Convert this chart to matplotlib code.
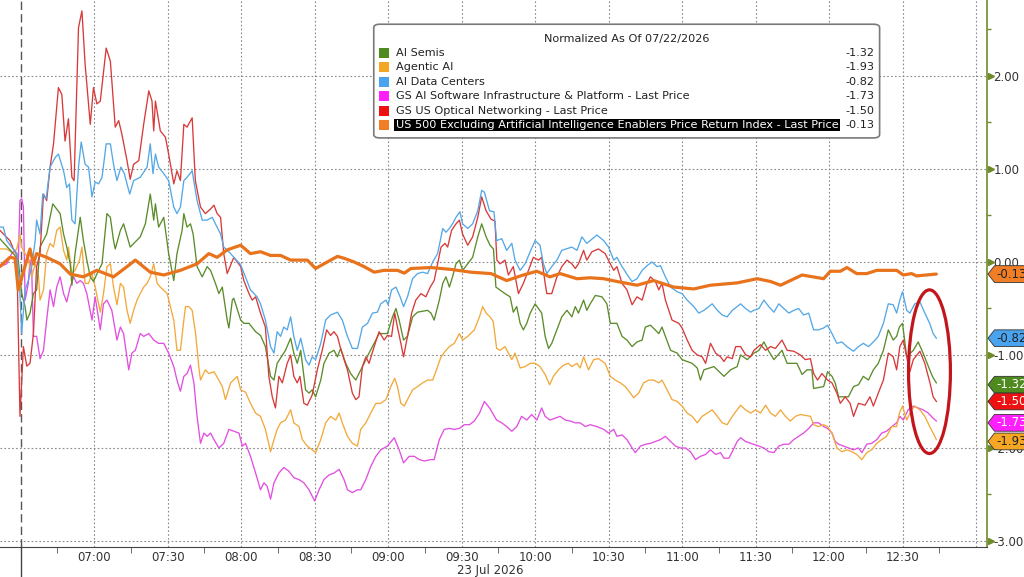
import matplotlib
matplotlib.use("Agg")
import matplotlib.pyplot as plt
import matplotlib.transforms as mtransforms
from matplotlib.patches import Ellipse, FancyBboxPatch, Polygon, Rectangle
from matplotlib.lines import Line2D

# time axis: minutes after 06:30 on 23 Jul 2026
labels = ["AI Semis", "Agentic AI", "AI Data Centers",
          "GS AI Software Infrastructure & Platform - Last Price",
          "GS US Optical Networking - Last Price",
          "US 500 Excluding Artificial Intelligence Enablers Price Return Index - Last Price"]
last_values = [-1.32, -1.93, -0.82, -1.73, -1.50, -0.13]
colors = ["#5b8c2a", "#f2a93b", "#55a8e6", "#e24fe0", "#d83a3a", "#e8731c"]
legend_colors = ["#4f8a1e", "#f5a623", "#4aa3ee", "#ff1fff", "#ee1111", "#f07e26"]

orange_t = [-8.5, -4.4, -2.3, -1.0, 3.8, 5.2, 6.5, 10.6, 16.1, 20.2,
            25.6, 31.1, 37.9, 43.4, 46.8, 52.9, 58.4, 65.2, 72.0, 76.8,
            80.2, 84.3, 89.8, 93.8, 97.9, 102.0, 106.1, 110.2, 117.0, 120.4,
            123.8, 129.3, 132.0, 136.1, 140.2, 144.3, 148.4, 153.8, 156.6, 159.3,
            167.5, 175.7, 183.8, 192.0, 198.4, 205.2, 210.7, 216.1, 220.2, 227.1,
            232.5, 238.0, 243.4, 251.6, 258.4, 266.6, 274.8, 281.6, 292.5, 300.7,
            306.1, 310.2, 314.2, 319.0, 327.8, 330.5, 334.6, 337.3, 341.3, 345.4,
            349.5, 357.6, 360.3, 363.7, 365.7, 373.8]
orange_v = [-0.05, 0.05, 0.04, -0.30, 0.14, -0.02, 0.09, 0.05, -0.02, -0.13,
            -0.16, -0.09, -0.16, -0.05, 0.02, -0.11, -0.14, -0.09, -0.02, 0.09,
            0.05, 0.13, 0.18, 0.09, 0.11, 0.07, 0.07, 0.02, 0.02, -0.07,
            -0.02, 0.06, 0.04, 0.00, -0.05, -0.11, -0.09, -0.09, -0.12, -0.07,
            -0.06, -0.08, -0.11, -0.125, -0.20, -0.14, -0.10, -0.16, -0.125, -0.18,
            -0.17, -0.18, -0.21, -0.25, -0.20, -0.27, -0.29, -0.25, -0.225, -0.18,
            -0.21, -0.25, -0.20, -0.14, -0.18, -0.10, -0.10, -0.06, -0.125, -0.125,
            -0.09, -0.09, -0.14, -0.125, -0.15, -0.13]

red_t = [-8.5, -4.4, -3.0, -1.6, -0.3, 1.1, 2.5, 3.8, 5.2, 6.5,
         7.9, 9.3, 10.6, 12.0, 13.4, 15.4, 16.8, 18.1, 19.5, 20.9,
         21.8, 23.6, 25.0, 26.3, 28.4, 29.7, 31.1, 32.5, 34.9, 36.6,
         38.6, 40.0, 41.3, 43.4, 44.7, 46.1, 48.2, 50.2, 52.3, 53.6,
         54.3, 55.0, 57.0, 59.1, 60.4, 62.5, 63.8, 65.2, 66.6, 67.9,
         70.0, 71.3, 73.4, 75.4, 77.5, 78.9, 80.2, 81.6, 82.9, 84.3,
         87.0, 89.8, 91.1, 93.2, 94.5, 95.9, 97.9, 99.9, 101.3, 102.7,
         104.0, 105.4, 106.8, 108.8, 110.2, 111.5, 112.9, 114.0, 115.6, 117.0,
         119.0, 121.1, 123.1, 124.9, 126.5, 127.9, 129.3, 130.4, 132.0, 133.4,
         135.4, 136.8, 138.1, 139.5, 140.9, 142.2, 144.3, 146.3, 148.4, 149.7,
         151.4, 152.7, 153.8, 155.2, 156.3, 157.9, 159.6, 161.3, 163.4, 165.4,
         167.2, 168.8, 170.2, 171.6, 173.2, 174.3, 175.9, 177.7, 179.1, 180.4,
         182.5, 184.5, 186.6, 188.2, 190.0, 192.0, 193.6, 194.4, 195.7, 197.7,
         199.1, 201.1, 203.2, 205.2, 207.3, 209.3, 211.4, 212.7, 214.1, 214.8,
         216.8, 218.9, 220.9, 223.0, 225.0, 226.4, 227.7, 229.8, 231.1, 233.2,
         235.9, 238.6, 240.7, 242.1, 243.4, 245.5, 247.5, 249.6, 251.6, 253.7,
         255.7, 257.1, 259.1, 260.5, 261.8, 263.2, 265.9, 268.7, 270.0, 272.1,
         274.1, 276.2, 278.2, 279.6, 281.6, 283.7, 285.7, 287.1, 288.4, 290.5,
         291.9, 293.9, 296.0, 298.0, 299.3, 302.0, 304.1, 306.1, 308.1, 310.8,
         312.9, 315.6, 318.3, 320.3, 322.4, 323.7, 325.3, 327.1, 329.4, 331.2,
         333.2, 334.6, 336.6, 338.6, 340.0, 342.0, 344.7, 346.7, 348.1, 350.1,
         352.2, 354.2, 356.2, 357.6, 358.9, 360.3, 361.7, 363.0, 364.4, 367.1,
         369.1, 371.2, 372.5, 373.8]
red_v = [0.34, 0.23, 0.14, 0.09, -1.66, -0.91, -1.12, -1.09, -0.77, -0.05,
         0.09, 0.73, 0.66, 1.02, 1.27, 1.875, 1.80, 1.30, 1.54, 0.91,
         0.875, 2.52, 2.70, 2.125, 1.48, 1.875, 1.70, 1.73, 2.30, 2.16,
         1.45, 1.52, 1.375, 1.09, 0.89, 1.05, 1.09, 1.48, 1.84, 1.73,
         1.41, 1.73, 1.41, 1.34, 1.16, 0.84, 0.98, 0.875, 1.48, 1.45,
         1.55, 0.875, 0.59, 0.52, 0.57, 0.61, 0.52, 0.48, 0.09, -0.125,
         0.05, -0.05, -0.20, -0.34, -0.41, -0.375, -0.55, -0.70, -1.23, -1.45,
         -1.57, -1.23, -1.30, -1.09, -1.00, -1.23, -1.30, -1.23, -1.52, -1.54,
         -1.43, -1.16, -0.95, -0.73, -0.79, -0.75, -0.80, -0.91, -1.05, -1.16,
         -1.41, -1.48, -1.45, -1.125, -1.02, -1.09, -0.91, -0.75, -0.84, -0.79,
         -0.80, -0.55, -0.70, -0.875, -1.02, -0.80, -0.55, -0.41, -0.34, -0.375,
         -0.27, -0.20, -0.02, 0.16, 0.20, 0.16, 0.34, 0.41, 0.45, 0.30,
         0.18, 0.27, 0.48, 0.70, 0.55, 0.46, 0.44, 0.02, -0.02, 0.02,
         -0.14, -0.05, -0.34, -0.23, -0.09, 0.05, 0.02, 0.05, -0.23, -0.34,
         -0.34, -0.16, -0.05, 0.02, -0.02, -0.07, -0.02, 0.125, 0.02, 0.11,
         0.14, 0.09, -0.02, -0.09, -0.05, -0.23, -0.30, -0.46, -0.375, -0.41,
         -0.23, -0.16, -0.21, -0.30, -0.23, -0.41, -0.625, -0.66, -0.71, -0.84,
         -0.95, -1.00, -1.02, -1.09, -0.875, -0.98, -1.02, -1.07, -1.02, -1.04,
         -0.91, -0.91, -1.0, -1.02, -0.95, -0.89, -0.95, -0.91, -0.93, -0.84,
         -0.95, -0.96, -1.00, -1.05, -1.04, -1.20, -1.27, -1.20, -1.27, -1.30,
         -1.41, -1.52, -1.45, -1.52, -1.66, -1.52, -1.54, -1.45, -1.55, -1.41,
         -1.27, -0.98, -1.02, -1.16, -0.91, -0.84, -1.02, -1.18, -1.05, -0.96,
         -1.09, -1.30, -1.45, -1.50]

green_t = [-8.5, -3.0, -1.0, 0.4, 1.8, 2.5, 3.8, 5.2, 6.5, 7.9,
           10.6, 13.1, 16.1, 17.5, 18.8, 20.2, 20.9, 22.2, 24.3, 25.6,
           27.0, 28.4, 29.7, 31.8, 33.2, 35.2, 36.6, 37.9, 38.6, 40.7,
           42.0, 44.7, 48.8, 50.9, 52.9, 54.3, 55.0, 56.3, 58.4, 60.4,
           62.5, 63.8, 65.9, 66.6, 67.9, 69.3, 70.4, 72.0, 74.1, 76.1,
           77.5, 79.5, 80.9, 82.3, 84.3, 85.0, 86.4, 87.0, 89.8, 91.1,
           93.2, 95.9, 97.9, 99.9, 102.0, 103.4, 104.7, 108.1, 110.2, 111.5,
           112.9, 114.3, 116.3, 117.7, 119.0, 120.4, 122.5, 123.8, 125.9, 127.9,
           129.3, 130.6, 132.7, 134.7, 136.8, 138.1, 140.2, 142.2, 144.3, 146.3,
           149.7, 151.8, 153.2, 154.5, 156.3, 157.9, 160.0, 162.0, 166.1, 167.5,
           168.8, 170.9, 172.3, 173.6, 175.0, 176.3, 177.7, 179.1, 180.4, 182.5,
           184.5, 186.6, 188.2, 190.0, 191.6, 193.0, 194.0, 197.7, 199.8, 201.1,
           202.5, 203.9, 205.2, 206.6, 208.0, 210.0, 212.7, 214.1, 215.5, 216.8,
           218.9, 220.9, 223.0, 225.0, 226.4, 227.7, 229.8, 231.1, 232.5, 234.6,
           237.3, 239.3, 240.7, 243.4, 245.5, 247.5, 249.6, 251.6, 253.7, 255.0,
           257.1, 260.5, 261.8, 263.2, 265.3, 268.0, 270.0, 274.1, 276.2, 277.5,
           278.9, 283.0, 287.1, 289.8, 292.5, 293.9, 296.6, 299.3, 301.4, 303.4,
           305.4, 307.5, 310.8, 312.9, 316.9, 319.0, 321.0, 323.0, 323.7, 327.8,
           329.4, 331.2, 332.5, 333.9, 337.9, 340.0, 342.0, 344.0, 346.1, 348.1,
           350.1, 352.2, 354.2, 356.2, 357.6, 358.7, 360.0, 361.7, 364.4, 366.4,
           368.4, 370.5, 372.2, 373.8]
green_v = [0.25, 0.09, 0.02, -0.34, -0.48, -0.625, -0.55, -0.34, -0.30, 0.16,
           0.30, 0.625, 0.52, 0.30, 0.16, -0.02, -0.25, 0.09, 0.48, 0.23,
           0.02, -0.16, -0.21, -0.09, -0.02, 0.52, 0.48, 0.23, 0.14, 0.34,
           0.41, 0.16, 0.27, 0.41, 0.73, 0.45, 0.625, 0.375, 0.48, 0.09,
           -0.20, 0.09, 0.34, 0.52, 0.375, 0.41, 0.30, -0.05, -0.16, -0.05,
           -0.09, -0.23, -0.34, -0.27, -0.625, -0.71, -0.41, -0.39, -0.625, -0.66,
           -0.66, -0.75, -0.79, -0.91, -1.23, -1.27, -1.09, -0.95, -0.82, -0.98,
           -1.09, -0.95, -1.375, -1.41, -1.375, -1.45, -1.27, -1.09, -0.98, -0.95,
           -1.02, -0.93, -1.09, -1.20, -1.27, -1.20, -1.09, -0.98, -0.875, -0.77,
           -0.77, -0.59, -0.50, -0.625, -0.84, -0.80, -0.59, -0.54, -0.52, -0.55,
           -0.625, -0.41, -0.23, -0.16, -0.27, -0.16, -0.02, 0.02, -0.09, -0.02,
           0.05, 0.27, 0.41, 0.27, 0.18, 0.14, -0.27, -0.34, -0.375, -0.54,
           -0.48, -0.66, -0.73, -0.66, -0.55, -0.45, -0.55, -0.80, -0.93, -0.875,
           -0.73, -0.59, -0.52, -0.59, -0.48, -0.55, -0.41, -0.52, -0.45, -0.36,
           -0.375, -0.45, -0.66, -0.66, -0.80, -0.84, -0.91, -0.86, -0.84, -0.70,
           -0.68, -0.77, -0.70, -0.80, -0.95, -0.98, -1.05, -1.09, -1.14, -1.27,
           -1.16, -1.125, -1.23, -1.16, -1.125, -1.00, -1.05, -0.98, -0.95, -0.86,
           -0.96, -1.05, -0.95, -1.09, -1.09, -1.21, -1.16, -1.16, -1.36, -1.34,
           -1.18, -1.23, -1.30, -1.45, -1.45, -1.34, -1.32, -1.23, -1.27, -1.16,
           -1.09, -0.95, -0.73, -0.84, -0.80, -0.70, -0.66, -1.02, -0.95, -0.86,
           -0.98, -1.12, -1.23, -1.30]

blue_t = [-8.5, -7.1, -5.7, -3.7, -1.6, -0.5, 0.4, 1.8, 3.1, 4.5,
          5.9, 6.5, 7.9, 9.0, 10.4, 12.0, 14.1, 15.4, 17.5, 18.8,
          19.9, 20.9, 22.2, 23.6, 24.7, 26.3, 27.7, 29.1, 30.4, 31.8,
          33.2, 34.9, 36.6, 37.9, 39.3, 40.9, 42.3, 44.5, 46.1, 48.8,
          51.6, 52.9, 54.0, 55.0, 56.3, 58.4, 60.4, 62.5, 63.8, 65.2,
          66.6, 67.9, 70.0, 72.0, 74.1, 76.1, 78.2, 79.5, 81.6, 82.9,
          85.7, 87.0, 89.8, 93.8, 96.5, 97.9, 99.9, 102.0, 103.4, 104.7,
          106.1, 107.4, 108.8, 110.2, 111.5, 112.9, 114.3, 116.3, 117.7, 119.0,
          120.4, 122.5, 124.5, 126.5, 129.3, 131.3, 133.4, 135.4, 137.5, 139.5,
          141.6, 143.6, 145.6, 147.0, 149.1, 150.0, 151.4, 153.2, 154.9, 156.3,
          157.9, 160.0, 162.0, 164.1, 166.1, 168.2, 170.2, 172.3, 173.6, 175.0,
          176.3, 177.7, 179.3, 180.4, 182.5, 184.5, 186.6, 188.2, 189.3, 191.4,
          193.2, 194.3, 196.4, 198.4, 200.5, 201.8, 203.9, 205.9, 208.0, 210.0,
          212.0, 213.4, 214.8, 216.8, 218.9, 220.9, 225.0, 227.1, 229.1, 231.1,
          232.5, 235.2, 238.0, 240.0, 242.1, 243.4, 245.5, 248.2, 249.6, 251.6,
          253.7, 255.7, 257.7, 259.8, 261.2, 263.2, 265.3, 268.0, 270.0, 272.1,
          274.8, 276.8, 278.9, 280.9, 282.3, 284.4, 286.4, 288.4, 290.5, 292.5,
          293.9, 295.9, 298.0, 299.3, 301.4, 303.4, 305.4, 307.5, 309.5, 311.5,
          313.6, 315.6, 317.6, 319.6, 321.7, 323.7, 325.7, 327.8, 329.4, 331.2,
          333.2, 335.2, 337.3, 340.0, 342.0, 344.0, 346.1, 348.1, 350.1, 352.2,
          354.2, 356.2, 357.6, 358.9, 360.0, 361.7, 363.0, 365.0, 367.1, 369.1,
          371.1, 372.5, 373.8]
blue_v = [0.375, 0.375, 0.23, 0.16, 0.09, -0.23, -0.77, -0.30, -0.20, -0.05,
          0.23, 0.45, 0.30, 0.73, 0.68, 1.02, 1.125, 1.16, 0.98, 0.80,
          0.84, 0.45, 0.41, 1.02, 1.29, 1.05, 1.02, 0.70, 0.86, 0.84,
          0.91, 1.27, 1.27, 1.05, 0.875, 1.02, 0.95, 0.73, 0.875, 0.91,
          1.02, 1.27, 0.95, 1.16, 1.02, 0.95, 0.875, 0.59, 0.52, 0.59,
          0.875, 0.91, 0.98, 0.66, 0.45, 0.45, 0.48, 0.41, 0.30, 0.16,
          0.09, 0.05, -0.03, -0.30, -0.375, -0.45, -0.625, -0.91, -0.98, -0.75,
          -0.80, -0.70, -0.73, -0.59, -0.80, -0.95, -0.82, -1.05, -1.11, -1.02,
          -1.05, -0.875, -0.625, -0.57, -0.54, -0.625, -0.80, -0.93, -0.93, -0.70,
          -0.66, -0.55, -0.54, -0.45, -0.41, -0.46, -0.30, -0.27, -0.375, -0.48,
          -0.375, -0.18, -0.125, -0.11, -0.125, 0.0, 0.09, 0.36, 0.32, 0.36,
          0.41, 0.48, 0.54, 0.41, 0.36, 0.41, 0.55, 0.77, 0.75, 0.55,
          0.54, 0.23, 0.25, 0.125, 0.20, 0.02, -0.09, -0.02, 0.11, 0.23,
          0.18, -0.02, -0.125, -0.05, 0.02, 0.125, 0.16, 0.125, 0.27, 0.20,
          0.23, 0.29, 0.23, 0.16, 0.02, 0.05, -0.05, -0.16, -0.21, -0.18,
          -0.09, -0.04, 0.0, -0.05, -0.04, -0.16, -0.27, -0.32, -0.34, -0.41,
          -0.48, -0.55, -0.52, -0.48, -0.45, -0.52, -0.57, -0.59, -0.52, -0.48,
          -0.45, -0.50, -0.54, -0.52, -0.50, -0.41, -0.48, -0.54, -0.45, -0.50,
          -0.55, -0.52, -0.50, -0.57, -0.55, -0.73, -0.73, -0.71, -0.68, -0.77,
          -0.875, -0.86, -0.91, -0.96, -0.91, -0.875, -0.91, -0.86, -0.80, -0.66,
          -0.45, -0.46, -0.55, -0.41, -0.32, -0.52, -0.55, -0.45, -0.43, -0.55,
          -0.66, -0.77, -0.82]

yellow_t = [-8.5, -5.7, -3.0, -1.6, -0.3, 0.4, 1.8, 3.1, 4.5, 5.9,
            7.2, 7.9, 9.3, 10.6, 12.0, 13.4, 14.7, 16.1, 17.5, 18.8,
            19.5, 20.9, 22.2, 24.0, 25.0, 26.3, 27.7, 29.1, 30.4, 32.5,
            33.8, 35.2, 36.6, 37.9, 39.3, 40.7, 42.0, 43.4, 44.7, 46.1,
            47.5, 48.8, 50.2, 51.6, 52.9, 54.3, 55.7, 57.0, 59.8, 61.1,
            62.5, 63.8, 65.2, 66.6, 67.3, 68.6, 70.0, 71.4, 72.7, 73.4,
            75.4, 76.8, 78.9, 80.9, 82.3, 83.6, 85.7, 88.4, 89.8, 91.8,
            93.8, 95.9, 97.9, 99.9, 102.0, 103.4, 104.7, 106.1, 108.1, 110.2,
            111.5, 113.6, 115.0, 117.0, 119.0, 120.4, 122.5, 124.5, 126.5, 128.6,
            130.0, 131.3, 133.4, 135.4, 137.5, 138.8, 140.9, 142.9, 145.0, 147.0,
            149.1, 151.1, 152.7, 153.8, 155.2, 156.6, 157.9, 160.0, 162.0, 164.1,
            166.1, 168.2, 170.2, 171.6, 173.6, 175.0, 177.0, 179.1, 180.4, 182.5,
            185.2, 187.3, 188.6, 190.0, 191.6, 192.9, 194.3, 195.7, 197.7, 199.1,
            200.5, 201.8, 203.9, 205.9, 208.0, 210.0, 212.0, 214.1, 215.9, 217.5,
            219.5, 221.6, 223.6, 225.0, 227.1, 228.4, 229.8, 231.8, 233.9, 235.9,
            238.6, 240.7, 242.7, 244.8, 246.8, 248.9, 250.2, 252.3, 254.3, 256.4,
            258.4, 260.5, 261.8, 263.9, 265.9, 268.0, 270.0, 272.1, 274.1, 276.2,
            278.2, 280.3, 282.3, 284.4, 286.4, 288.4, 290.5, 292.5, 293.9, 295.9,
            298.0, 300.0, 302.0, 304.1, 306.1, 308.1, 310.2, 312.2, 314.2, 316.3,
            318.3, 322.4, 323.7, 325.7, 327.8, 329.4, 331.2, 333.2, 335.2, 337.3,
            339.3, 341.3, 343.4, 345.4, 347.4, 349.5, 351.5, 353.5, 355.6, 357.6,
            358.7, 360.0, 361.7, 363.7, 365.0, 367.1, 369.1, 371.1, 372.5, 373.8]
yellow_v = [0.14, 0.14, 0.09, 0.14, 0.30, 0.16, 0.09, 0.04, -0.16, -0.02,
            -0.125, -0.41, -0.30, 0.09, 0.20, 0.16, 0.34, 0.375, 0.125, 0.02,
            0.16, -0.125, -0.09, 0.02, 0.16, -0.23, -0.23, -0.125, -0.27, -0.54,
            -0.34, -0.05, -0.02, -0.27, -0.46, -0.23, -0.27, -0.52, -0.66, -0.52,
            -0.41, -0.34, -0.27, -0.23, -0.16, -0.02, -0.23, -0.27, -0.34, -0.48,
            -0.625, -0.95, -0.95, -0.625, -0.48, -0.48, -0.52, -0.77, -1.125, -1.27,
            -1.16, -1.20, -1.18, -1.27, -1.34, -1.48, -1.30, -1.23, -1.375, -1.40,
            -1.52, -1.625, -1.66, -1.80, -2.04, -1.91, -1.80, -1.73, -1.70, -1.59,
            -1.73, -1.77, -1.91, -1.98, -2.02, -2.05, -1.91, -1.73, -1.66, -1.70,
            -1.625, -1.73, -1.875, -1.95, -1.98, -1.80, -1.73, -1.625, -1.52, -1.52,
            -1.48, -1.34, -1.25, -1.34, -1.52, -1.55, -1.48, -1.375, -1.34, -1.30,
            -1.27, -1.27, -1.125, -1.02, -0.95, -0.91, -0.875, -0.77, -0.84, -0.80,
            -0.73, -0.59, -0.48, -0.55, -0.59, -0.64, -0.93, -0.95, -0.91, -0.98,
            -1.05, -0.98, -1.14, -1.125, -1.09, -1.09, -1.125, -1.21, -1.32, -1.23,
            -1.16, -1.11, -1.09, -1.125, -1.09, -1.14, -1.02, -1.16, -1.05, -1.04,
            -1.09, -1.23, -1.27, -1.30, -1.34, -1.41, -1.46, -1.41, -1.30, -1.27,
            -1.27, -1.30, -1.27, -1.375, -1.48, -1.50, -1.55, -1.625, -1.66, -1.73,
            -1.66, -1.625, -1.59, -1.66, -1.73, -1.75, -1.66, -1.59, -1.54, -1.59,
            -1.625, -1.59, -1.625, -1.54, -1.625, -1.66, -1.59, -1.66, -1.71, -1.66,
            -1.64, -1.66, -1.75, -1.77, -1.75, -1.77, -1.84, -2.00, -2.04, -2.02,
            -2.04, -2.07, -2.125, -2.05, -2.02, -1.95, -1.91, -1.875, -1.77, -1.77,
            -1.625, -1.55, -1.70, -1.59, -1.55, -1.59, -1.66, -1.77, -1.84, -1.91]

magenta_t = [-8.5, -5.7, -3.7, -2.3, -1.0, -0.3, 0.4, 1.1, 1.8, 3.1,
             3.8, 4.5, 5.2, 6.5, 7.9, 9.3, 10.6, 12.0, 13.4, 14.7,
             16.1, 17.5, 18.8, 20.2, 21.6, 22.9, 24.3, 25.6, 27.0, 29.1,
             30.4, 32.5, 33.8, 35.2, 37.2, 39.3, 40.7, 42.0, 44.1, 45.4,
             46.8, 48.8, 50.2, 52.3, 54.3, 56.3, 58.4, 60.4, 62.5, 63.8,
             65.2, 66.6, 67.9, 69.3, 70.7, 72.0, 73.4, 74.8, 76.1, 77.5,
             78.9, 80.9, 82.9, 85.0, 87.0, 89.1, 90.5, 91.8, 93.8, 95.9,
             97.9, 99.3, 100.6, 102.0, 103.4, 105.4, 107.4, 109.5, 111.5, 113.6,
             115.6, 117.7, 120.0, 121.8, 123.8, 125.9, 127.9, 130.0, 132.0, 133.4,
             135.4, 137.5, 138.8, 140.9, 142.9, 145.0, 147.0, 149.7, 152.5, 154.5,
             156.3, 158.6, 160.7, 162.7, 164.7, 167.5, 168.8, 170.9, 172.9, 175.0,
             177.0, 179.1, 181.1, 183.2, 185.2, 187.3, 189.3, 191.4, 194.3, 196.4,
             198.4, 200.5, 202.5, 204.5, 206.6, 208.6, 210.7, 212.7, 214.1, 216.1,
             218.2, 220.2, 222.3, 224.3, 226.4, 228.4, 230.5, 232.5, 235.2, 238.0,
             240.0, 242.1, 243.4, 245.5, 247.5, 249.6, 250.9, 253.0, 255.0, 257.1,
             259.1, 261.2, 263.2, 265.3, 267.3, 269.3, 271.4, 273.4, 275.5, 277.5,
             279.6, 281.6, 283.7, 285.7, 287.1, 289.1, 290.5, 292.5, 293.9, 295.9,
             298.0, 301.4, 303.4, 305.4, 307.5, 309.5, 311.5, 313.6, 315.6, 317.6,
             319.6, 321.7, 323.7, 325.7, 327.8, 329.4, 331.2, 332.5, 333.9, 335.9,
             337.9, 340.0, 342.0, 343.4, 345.4, 347.4, 349.5, 351.5, 353.5, 355.6,
             357.6, 358.9, 360.3, 362.3, 364.4, 366.4, 368.4, 370.5, 372.5, 373.8]
magenta_v = [-0.05, -0.02, 0.09, 0.125, -0.02, 0.66, 0.68, 0.59, -0.41, -0.23,
             0.02, -0.09, -0.80, -0.80, -1.04, -0.95, -0.625, -0.30, -0.48, -0.27,
             -0.16, -0.34, -0.43, -0.27, -0.16, -0.23, -0.20, -0.23, -0.34, -0.625,
             -0.375, -0.73, -0.45, -0.41, -0.52, -0.84, -0.70, -0.77, -1.16, -0.98,
             -0.95, -0.77, -0.80, -0.77, -0.84, -0.875, -0.875, -0.98, -1.125, -1.27,
             -1.39, -1.23, -1.20, -1.11, -1.30, -1.66, -1.95, -1.84, -1.875, -1.84,
             -1.91, -2.00, -1.95, -1.80, -1.82, -1.84, -1.98, -1.95, -2.09, -2.27,
             -2.45, -2.375, -2.41, -2.55, -2.375, -2.27, -2.21, -2.25, -2.32, -2.34,
             -2.375, -2.45, -2.57, -2.45, -2.34, -2.29, -2.27, -2.23, -2.34, -2.45,
             -2.48, -2.45, -2.45, -2.34, -2.20, -2.09, -2.02, -1.98, -1.89, -2.02,
             -2.16, -2.09, -2.09, -2.125, -2.14, -2.125, -2.125, -1.91, -1.80, -1.79,
             -1.80, -1.79, -1.75, -1.75, -1.71, -1.625, -1.50, -1.57, -1.70, -1.73,
             -1.77, -1.82, -1.77, -1.66, -1.70, -1.64, -1.70, -1.57, -1.66, -1.70,
             -1.68, -1.66, -1.70, -1.71, -1.73, -1.73, -1.77, -1.75, -1.77, -1.80,
             -1.84, -1.80, -1.875, -1.86, -1.91, -2.00, -2.05, -1.98, -1.96, -1.95,
             -1.93, -1.91, -1.875, -1.93, -1.98, -2.00, -2.00, -2.04, -2.125, -2.09,
             -2.07, -2.02, -2.07, -2.05, -2.11, -2.11, -2.04, -1.93, -1.89, -1.93,
             -1.95, -1.98, -2.00, -2.04, -2.05, -1.98, -1.96, -1.96, -1.91, -1.875,
             -1.84, -1.79, -1.73, -1.73, -1.77, -1.79, -1.84, -1.93, -1.96, -1.98,
             -2.00, -2.02, -2.00, -2.05, -1.96, -1.95, -1.91, -1.84, -1.82, -1.77,
             -1.73, -1.66, -1.70, -1.59, -1.55, -1.57, -1.59, -1.625, -1.68, -1.71]

tick_minutes = [30, 60, 90, 120, 150, 180, 210, 240, 270, 300, 330, 360]
tick_labels = ["07:00", "07:30", "08:00", "08:30", "09:00", "09:30",
               "10:00", "10:30", "11:00", "11:30", "12:00", "12:30"]
y_ticks = [2, 1, 0, -1, -2, -3]

fig = plt.figure(figsize=(10.24, 5.77), dpi=100)
ax = fig.add_axes([0.0, 0.052, 0.9639, 0.948])

# grid
grid_kw = dict(color="#8a8a8a", lw=0.8, ls=(0, (1.5, 2)), zorder=0)
for m in range(30, 391, 30):
    ax.axvline(m, **grid_kw)
for y in y_ticks:
    ax.axhline(y, **grid_kw)
ax.axvline(0, color="#555555", lw=1.0, ls=(0, (6, 3)), zorder=0)
sep = Line2D([0, 0], [0, 0.052], color="#444444", lw=1.0,
             transform=mtransforms.blended_transform_factory(ax.transData, fig.transFigure))
fig.add_artist(sep)

series = [(magenta_t, magenta_v, colors[3]), (yellow_t, yellow_v, colors[1]),
          (green_t, green_v, colors[0]), (red_t, red_v, colors[4]),
          (blue_t, blue_v, colors[2])]
for t, v, c in series:
    ax.plot(t, v, color=c, lw=0.95, zorder=3)
ax.plot(orange_t, orange_v, color=colors[5], lw=2.3, zorder=4, solid_capstyle="round")

ax.add_patch(Ellipse((371.0, -1.18), width=17.1, height=1.76, fill=False,
                     edgecolor="#c3161c", lw=2.3, zorder=5))

# axes styling
for s in ["left", "top"]:
    ax.spines[s].set_visible(False)
ax.spines["right"].set_color("#6e8b2a")
ax.spines["right"].set_linewidth(1.2)
ax.spines["bottom"].set_color("#444444")
ax.yaxis.tick_right()
ax.set_yticks(y_ticks)
ax.set_yticklabels([f"{y:.2f}" for y in y_ticks])
ax.set_yticks([2.5, 1.5, 0.5, -0.5, -1.5, -2.5], minor=True)
ax.tick_params(axis="y", which="major", length=0, pad=4.5, labelsize=8.5, labelcolor="#333333")
ax.tick_params(axis="y", which="minor", length=3, color="#6e8b2a", width=1)
ax.set_xticks(tick_minutes)
ax.set_xticklabels(tick_labels)
ax.set_xticks([m + 15 for m in range(-30, 391, 30)], minor=True)
ax.tick_params(axis="x", which="major", length=0, pad=3, labelsize=8.5, labelcolor="#333333")
ax.tick_params(axis="x", which="minor", length=4, color="#555555")
tri_tr = mtransforms.blended_transform_factory(ax.transAxes, ax.transData)
ax.plot([1.004] * len(y_ticks), y_ticks, ls="none", marker=">", ms=4.5,
        color="#6e8b2a", transform=tri_tr, clip_on=False, zorder=6)
ax.set_xlim(-8.45, 394.5)
ax.set_ylim(-3.065, 2.817)
fig.text(0.4785, 0.012, "23 Jul 2026", ha="center", va="center", fontsize=8.5, color="#333333")

# last value tags
tag_tr = mtransforms.blended_transform_factory(fig.transFigure, ax.transData)
h = 0.09
for val, c, tc in [(last_values[5], legend_colors[5], "#222222"),
                   (last_values[2], legend_colors[2], "#222222"),
                   (last_values[1], legend_colors[1], "#222222"),
                   (last_values[0], legend_colors[0], "white"),
                   (last_values[4], legend_colors[4], "white"),
                   (last_values[3], legend_colors[3], "white")]:
    poly = Polygon([(0.9648, val), (0.9712, val + h), (1.01, val + h),
                    (1.01, val - h), (0.9712, val - h)], closed=True,
                   facecolor=c, edgecolor="#333333", lw=0.6,
                   transform=tag_tr, clip_on=False, zorder=10)
    fig.add_artist(poly)
    fig.text(0.9735, val, f"{val:.2f}", transform=tag_tr, fontsize=8.5,
             color=tc, va="center", ha="left", zorder=11)

# legend box
box = FancyBboxPatch((0.365, 0.761), 0.494, 0.197, boxstyle="round,pad=0,rounding_size=0.006",
                     transform=fig.transFigure, facecolor="white", edgecolor="#7a7a7a",
                     lw=1.2, zorder=20)
fig.add_artist(box)
fig.text(0.612, 0.932, "Normalized As Of 07/22/2026", ha="center", va="center",
         fontsize=8.1, color="#222222", zorder=21)
row_px = [53, 67, 82, 96, 111, 125]
for i, (lab, val, c) in enumerate(zip(labels, last_values, legend_colors)):
    yf = 1 - row_px[i] / 577
    fig.add_artist(Rectangle((0.3706, yf - 0.0085), 0.0088, 0.017, transform=fig.transFigure,
                             facecolor=c, edgecolor="none", zorder=21))
    if i == 5:
        fig.text(0.3865, yf, lab, ha="left", va="center", fontsize=8.1, color="white",
                 zorder=22, bbox=dict(boxstyle="square,pad=0.12", facecolor="black",
                                      edgecolor="none"))
    else:
        fig.text(0.3865, yf, lab, ha="left", va="center", fontsize=8.1,
                 color="#222222", zorder=21)
    fig.text(0.8535, yf, f"{val:.2f}", ha="right", va="center", fontsize=8.1,
             color="#222222", zorder=21)

fig.savefig("out.png", dpi=100)
